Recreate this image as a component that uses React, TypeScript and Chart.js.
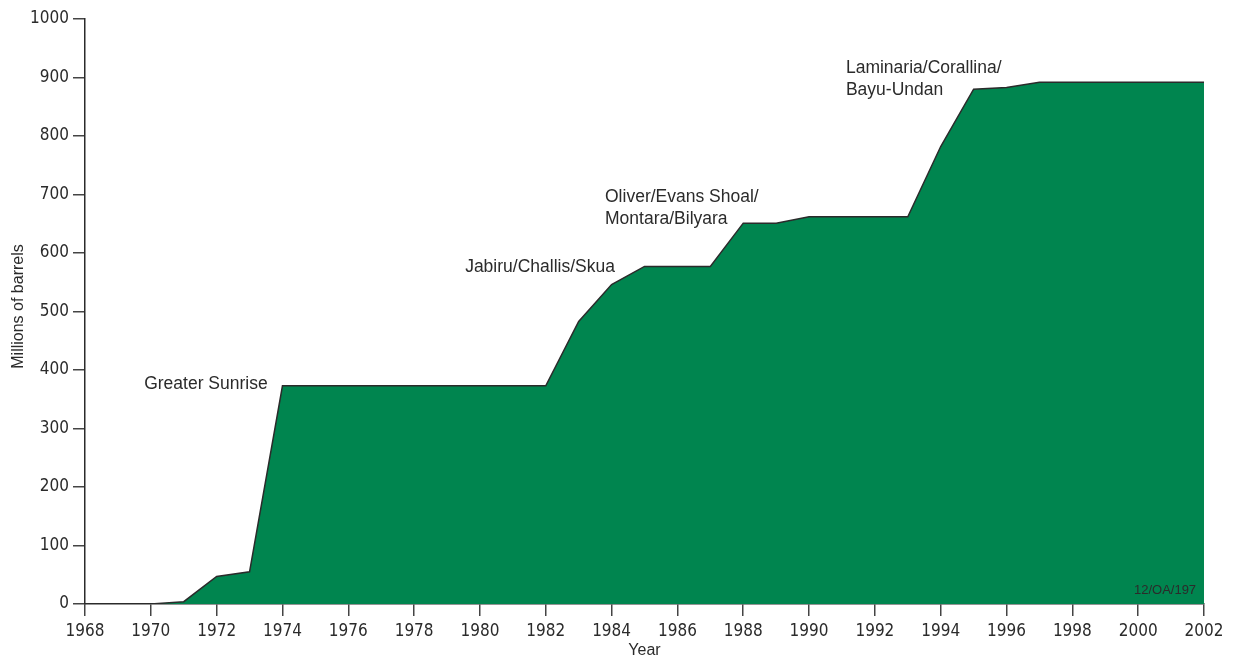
import React, { useEffect, useRef } from "react";
import { Chart, registerables } from "chart.js";

Chart.register(...registerables);

const years = [1970, 1971, 1972, 1973, 1974, 1975, 1976, 1977, 1978, 1979, 1980, 1981, 1982, 1983, 1984, 1985, 1986, 1987, 1988, 1989, 1990, 1991, 1992, 1993, 1994, 1995, 1996, 1997, 1998, 1999, 2000, 2001, 2002];
const reserves = [0, 4, 47, 55, 373, 373, 373, 373, 373, 373, 373, 373, 373, 483, 546, 577, 577, 577, 651, 651, 662, 662, 662, 662, 782, 880, 883, 892, 892, 892, 892, 892, 892];

const xMin = 1968;
const xMax = 2002;
const xStep = 2;
const yMin = 0;
const yMax = 1000;
const yStep = 100;

const annotationTexts = [["Greater Sunrise"], ["Jabiru/Challis/Skua"], ["Oliver/Evans Shoal/", "Montara/Bilyara"], ["Laminaria/Corallina/", "Bayu-Undan"]];
const annotationYears = [1973.55, 1979.55, 1983.8, 1991.12];
const annotationValues = [376, 575, 696, 916];
const annotationAlign = ["right", "left", "left", "left"];

const codeLabel = "12/OA/197";
const xTitle = "Year";
const yTitle = "Millions of barrels";

const FILL = "#00854f";
const INK = "#2b2b2b";
const NARROW = "'Liberation Sans Narrow', 'DejaVu Sans Condensed', 'Liberation Sans', Arial, sans-serif";
const SANS = "'Liberation Sans', Arial, Helvetica, sans-serif";

export default function App() {
  const ref = useRef<HTMLCanvasElement | null>(null);

  useEffect(() => {
    document.body.style.margin = "0";
    const canvas = ref.current;
    if (!canvas) return;

    const points = years.map((y, i) => ({ x: y, y: reserves[i] }));
    const lastIdx = years.length - 1;
    const edge = [
      { x: years[lastIdx], y: reserves[lastIdx] },
      { x: years[lastIdx], y: 0 },
    ];

    const textPlugin = {
      id: "texts",
      afterDraw(chart: any) {
        const ctx = chart.ctx as CanvasRenderingContext2D;
        const xs = chart.scales.x;
        const ys = chart.scales.y;
        ctx.save();
        ctx.fillStyle = INK;
        ctx.textBaseline = "middle";
        ctx.font = `17.5px ${SANS}`;
        annotationTexts.forEach((lines, i) => {
          const px = xs.getPixelForValue(annotationYears[i]);
          const py = ys.getPixelForValue(annotationValues[i]);
          ctx.textAlign = annotationAlign[i] as CanvasTextAlign;
          lines.forEach((line, j) => ctx.fillText(line, px, py + j * 22));
        });
        // code label
        ctx.font = `13px ${SANS}`;
        ctx.textAlign = "right";
        ctx.fillText(codeLabel, xs.getPixelForValue(2001.76), ys.getPixelForValue(23));
        // axis titles
        ctx.font = `16px ${SANS}`;
        ctx.textAlign = "center";
        ctx.fillText(xTitle, (chart.chartArea.left + chart.chartArea.right) / 2, 651);
        ctx.translate(19, 306.5);
        ctx.rotate(-Math.PI / 2);
        ctx.fillText(yTitle, 0, 0);
        ctx.restore();
      },
    };

    const chart = new Chart(canvas, {
      type: "line",
      data: {
        datasets: [
          {
            data: points,
            fill: "origin",
            backgroundColor: FILL,
            borderColor: INK,
            borderWidth: 1.5,
            pointRadius: 0,
            tension: 0,
          },
          {
            data: edge,
            fill: false,
            borderColor: INK,
            borderWidth: 1.5,
            pointRadius: 0,
          },
        ],
      },
      options: {
        responsive: false,
        animation: false,
        layout: { padding: { top: 19, right: 29, left: 0, bottom: 0 } },
        plugins: { legend: { display: false }, tooltip: { enabled: false } },
        scales: {
          x: {
            type: "linear",
            min: xMin,
            max: xMax,
            afterFit(scale: any) {
              scale.height = 61;
            },
            ticks: {
              stepSize: xStep,
              autoSkip: false,
              maxRotation: 0,
              padding: 5,
              color: INK,
              font: { family: NARROW, size: 17 },
              callback: (v: any) => String(v),
            },
            grid: {
              drawOnChartArea: false,
              drawTicks: true,
              tickLength: 12,
              tickColor: "#444",
              lineWidth: 1.5,
            },
            border: { display: true, color: INK, width: 1.5 },
          },
          y: {
            type: "linear",
            min: yMin,
            max: yMax,
            afterFit(scale: any) {
              scale.width = 85;
            },
            ticks: {
              stepSize: yStep,
              autoSkip: false,
              padding: 4,
              color: INK,
              font: { family: NARROW, size: 17 },
              callback: (v: any) => String(v),
            },
            grid: {
              drawOnChartArea: false,
              drawTicks: true,
              tickLength: 12,
              tickColor: "#444",
              lineWidth: 1.5,
            },
            border: { display: true, color: INK, width: 1.5 },
          },
        },
      },
      plugins: [textPlugin],
    });

    return () => chart.destroy();
  }, []);

  return (
    <div style={{ width: 1233, height: 665 }}>
      <canvas ref={ref} width={1233} height={665} style={{ display: "block" }} />
    </div>
  );
}
